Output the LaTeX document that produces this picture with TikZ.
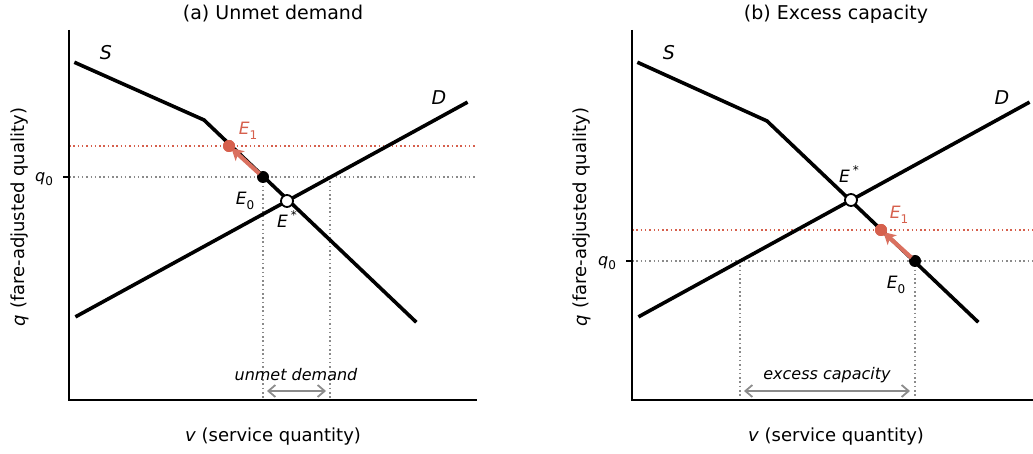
\documentclass[tikz,border=0pt]{standalone}
\usepackage{fontspec}
\setmainfont{DejaVu Sans}
\usetikzlibrary{arrows.meta}
\definecolor{ered}{HTML}{D6604D}
\definecolor{dgray}{HTML}{8A8A8A}
\definecolor{agray}{HTML}{8C8C8C}
\tikzset{
  curve/.style={line width=3.6pt, line cap=rect, line join=miter},
  axisline/.style={line width=2pt},
  guide/.style={dgray, line width=1.6pt, dash pattern=on 1.5pt off 2.8pt},
  rguide/.style={ered, line width=1.6pt, dash pattern=on 1.5pt off 2.8pt},
  edot/.style={circle, fill=black, inner sep=0pt, minimum size=12pt},
  estar/.style={circle, draw=black, fill=white, line width=1.8pt, inner sep=0pt, minimum size=12pt},
  eone/.style={circle, fill=ered, inner sep=0pt, minimum size=12pt},
  move/.style={ered!90!white, line width=4.2pt, -{Stealth[length=12pt,width=13pt,inset=3pt]}, shorten <=5pt, shorten >=3pt},
  span/.style={agray, line width=1.8pt, {Straight Barb[length=7pt,width=12pt]}-{Straight Barb[length=7pt,width=12pt]}},
  ttl/.style={font=\fontsize{19}{22}\selectfont},
  albl/.style={font=\fontsize{18}{21}\selectfont},
  clbl/.style={font=\fontsize{19}{22}\selectfont\itshape},
  plbl/.style={font=\fontsize{17}{20}\selectfont\itshape},
  rlbl/.style={font=\fontsize{17}{20}\selectfont\itshape, text=ered},
  slbl/.style={font=\fontsize{16}{19}\selectfont\itshape},
}
\newcommand{\lowidx}[1]{\raisebox{-0.28em}{\fontsize{12}{12}\selectfont\upshape #1}}
\newcommand{\highidx}[1]{\,\raisebox{0.45em}{\fontsize{12}{12}\selectfont\upshape #1}}
\begin{document}
\begin{tikzpicture}[x=1pt,y=-1pt]
\useasboundingbox (0,0) rectangle (1033,454);
% ---------------- Panel (a) ----------------
\coordinate (Oa) at (69,400);
\coordinate (Ta) at (69,30);
\coordinate (Xa) at (477,400);
\coordinate (Qa) at (63,177);
\coordinate (Qa0) at (69,177);
\coordinate (Qae) at (477,177);
\coordinate (Ra0) at (69,146);
\coordinate (Rae) at (477,146);
\coordinate (Va1) at (263,400);
\coordinate (Va2t) at (330,177);
\coordinate (Va2) at (330,400);
\coordinate (Sa1) at (76,63);
\coordinate (Sa2) at (204,120);
\coordinate (Sa3) at (415,321);
\coordinate (Da1) at (77,316);
\coordinate (Da2) at (466,103);
\coordinate (Aa1) at (267,391);
\coordinate (Aa2) at (326,391);

\draw[guide] (Qa0) -- (Qae);
\draw[rguide] (Ra0) -- (Rae);
\draw[guide] (263,177) -- (Va1);
\draw[guide] (Va2t) -- (Va2);
\draw[axisline] (Ta) -- (Oa) -- (Xa);
\draw[line width=1.4pt] (Qa) -- (Qa0);
\draw[curve] (Sa1) -- (Sa2) -- (Sa3);
\draw[curve] (Da1) -- (Da2);

\node[edot] (E0a) at (263,177) {};
\node[eone] (E1a) at (229,146) {};
\draw[move] (E0a.center) -- (E1a.center);
\node[eone] at (E1a) {};
\node[estar] (Esa) at (287,201) {};
\draw[span] (Aa1) -- (Aa2);

\node[ttl] (Ta1) at (273,14) {(a) Unmet demand};
\node[albl] (XLa) at (273,437) {\textit{v} (service quantity)};
\node[albl, rotate=90] (YLa) at (20,217) {\textit{q} (fare-adjusted quality)};
\node[clbl] (SLa) at (106,53) {S};
\node[clbl] (DLa) at (439,98) {D};
\node[rlbl] (E1La) at (248,131) {E\lowidx{1}};
\node[plbl] (E0La) at (245,201) {E\lowidx{0}};
\node[plbl] (EsLa) at (287,219) {E\highidx{*}};
\node[slbl] (Q0La) at (44,179) {q\lowidx{0}};
\node[slbl] (UDa) at (296,375) {unmet demand};

% ---------------- Panel (b) ----------------
\coordinate (Ob) at (632,400);
\coordinate (Tb) at (632,30);
\coordinate (Xb) at (1033,400);
\coordinate (Qb) at (626,261);
\coordinate (Qb0) at (632,261);
\coordinate (Qbe) at (1033,261);
\coordinate (Rb0) at (632,230);
\coordinate (Rbe) at (1033,230);
\coordinate (Vb1t) at (740,261);
\coordinate (Vb1) at (740,400);
\coordinate (Vb2) at (915,400);
\coordinate (Sb1) at (639,63);
\coordinate (Sb2) at (767,121);
\coordinate (Sb3) at (977,321);
\coordinate (Db1) at (640,316);
\coordinate (Db2) at (1028,103);
\coordinate (Ab1) at (744,391);
\coordinate (Ab2) at (910,391);

\draw[guide] (Qb0) -- (Qbe);
\draw[rguide] (Rb0) -- (Rbe);
\draw[guide] (Vb1t) -- (Vb1);
\draw[guide] (915,261) -- (Vb2);
\draw[axisline] (Tb) -- (Ob) -- (Xb);
\draw[line width=1.4pt] (Qb) -- (Qb0);
\draw[curve] (Sb1) -- (Sb2) -- (Sb3);
\draw[curve] (Db1) -- (Db2);

\node[edot] (E0b) at (915,261) {};
\node[eone] (E1b) at (881,230) {};
\draw[move] (E0b.center) -- (E1b.center);
\node[eone] at (E1b) {};
\node[estar] (Esb) at (851,200) {};
\draw[span] (Ab1) -- (Ab2);

\node[ttl] (Tb1) at (836,14) {(b) Excess capacity};
\node[albl] (XLb) at (836,437) {\textit{v} (service quantity)};
\node[albl, rotate=90] (YLb) at (582,217) {\textit{q} (fare-adjusted quality)};
\node[clbl] (SLb) at (669,53) {S};
\node[clbl] (DLb) at (1002,98) {D};
\node[rlbl] (E1Lb) at (899,215) {E\lowidx{1}};
\node[plbl] (E0Lb) at (896,285) {E\lowidx{0}};
\node[plbl] (EsLb) at (849,174) {E\highidx{*}};
\node[slbl] (Q0Lb) at (607,263) {q\lowidx{0}};
\node[slbl] (ECb) at (827,375) {excess capacity};
\end{tikzpicture}
\end{document}
